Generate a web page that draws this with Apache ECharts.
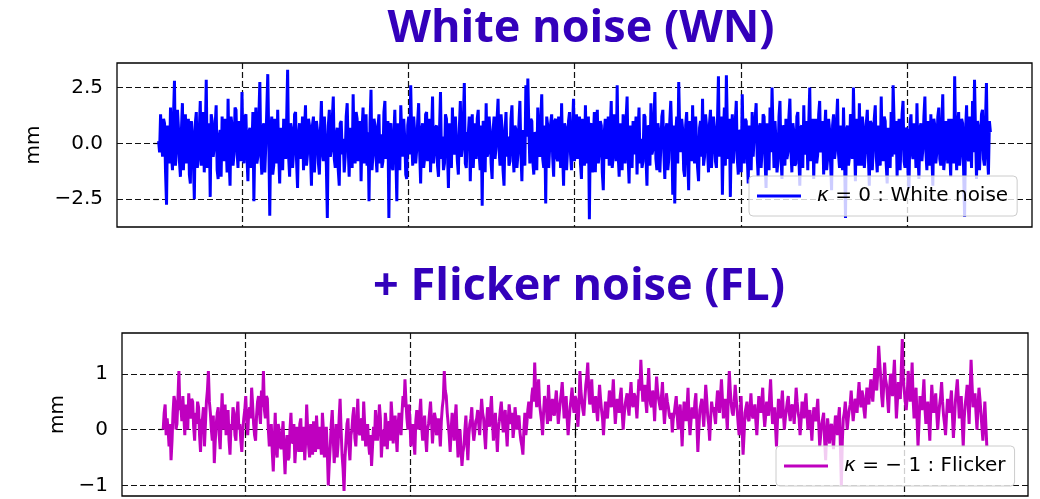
<!DOCTYPE html>
<html>
<head>
<meta charset="utf-8">
<script src="https://cdn.jsdelivr.net/npm/echarts@6/dist/echarts.min.js"></script>
<style>
  html, body { margin: 0; padding: 0; background: #ffffff; }
  #chart { width: 1040px; height: 499px; }
</style>
</head>
<body>
<div id="chart"></div>
<script>
// Position time series, in mm
const whiteNoise = [
  0.1, -0.4, 1.3, 0.2, -0.6, 1.1, 0.9, -1.3, -2.75, 0.8, 0.4, -0.9, 1.6, -0.5, -1.2, 1.2, 2.8, -1.0, -0.3, 1.5,
  0.7, -0.8, -1.5, 0.6, 1.8, -1.2, 0.2, 1.3, -0.9, 0.5, 1.1, -1.4, -1.8, 1.0, 0.5, -0.7, -2.5, 0.9, 1.4, -1.1,
  -0.7, 0.6, 1.9, -1.0, 0.3, 1.4, -1.3, 0.2, 2.85, -1.1, -0.4, 0.9, -2.4, 1.3, 1.0, -0.6, -0.2, 0.8, 1.7, -1.2,
  -1.6, 0.3, 0.6, -1.5, 1.2, -0.4, -0.8, 1.1, 0.1, -1.3, 2.0, -0.7, -1.9, 1.2, 0.8, -1.0, -0.5, 1.6, 1.5, -0.3,
  -1.1, 1.0, 0.4, -0.8, 2.3, -0.2, -0.9, 1.2, 1.3, -0.6, -1.7, 0.5, 0.7, -1.1, -0.3, 1.4, -2.6, 0.3, 1.6, -0.9,
  -0.6, 1.2, 2.75, -0.5, -1.4, 0.7, 0.9, -1.3, -0.1, 1.5, 3.1, 0.2, -3.25, 0.6, 1.2, -1.4, -1.0, 1.1, 0.5, -0.9,
  1.5, -0.5, -1.8, 0.7, 0.2, -1.2, 1.1, -0.3, -0.7, 1.0, 3.3, -0.6, -1.5, 0.9, 0.6, -1.1, -0.4, 1.3, 1.4, -0.8,
  -2.0, 0.4, 0.9, -0.7, 0.0, 1.2, -1.2, 0.5, 1.7, -1.0, -0.5, 1.1, 0.8, -0.4, -1.9, 0.8, 1.2, -1.3, -0.2, 1.0,
  0.6, -0.9, -1.4, 0.5, 1.9, -0.4, -0.8, 1.2, 0.3, -1.0, -3.35, 0.8, 1.5, -0.6, -0.3, 1.1, 2.1, -0.7, -1.1, 0.4,
  0.7, -1.2, -1.9, 0.9, 1.0, -0.5, 0.2, -1.3, -0.6, 1.2, 1.8, -0.2, -1.5, 0.7, 0.4, -1.1, 2.2, -0.3, -0.9, 1.4,
  1.1, -0.8, -0.4, 1.0, -1.7, 0.6, 1.6, -0.9, 0.1, 1.3, -1.0, 0.5, -2.6, 0.9, 2.4, -1.2, -0.5, 1.1, 0.8, -0.6,
  -1.3, 0.7, 1.3, -0.9, 0.4, -1.1, -0.8, 1.4, 1.9, -0.7, -0.2, 1.0, -3.35, 0.8, 0.9, -1.0, -1.2, 0.4, 1.5, -0.5,
  -2.6, 0.9, 0.7, -1.2, 1.7, 0.3, -0.6, 1.1, 0.2, -1.4, -1.6, 0.8, 1.2, -0.5, 2.6, 0.2, -1.0, 1.2, 0.5, -0.9,
  -0.3, 1.0, 1.8, -0.4, -1.8, 0.6, 0.9, -1.1, -0.7, 1.3, 1.4, -0.8, 0.0, 1.1, -1.3, 0.5, 2.1, -0.9, -0.4, 0.7,
  0.8, -1.0, -1.5, 0.6, 2.3, -0.7, 0.3, -1.2, -0.9, 1.3, 1.1, -0.4, -2.0, 0.9, 0.6, -1.1, 1.6, -0.3, -0.5, 1.2,
  0.2, -0.8, -1.4, 0.7, 1.9, -0.6, -0.2, 1.0, 2.7, -0.9, -1.1, 0.5, 0.4, 1.2, -1.7, 0.3, 1.3, -1.1, 0.0, 0.9,
  -0.7, 1.1, 1.5, -0.5, -1.2, 0.8, -2.8, 1.0, 0.9, -1.3, 1.8, -0.6, -0.4, 1.2, 0.5, -0.9, -1.6, 0.6, 1.2, -0.7,
  -0.1, 1.1, 2.0, -0.3, -1.0, 1.3, 0.7, -1.2, -1.9, 0.5, 1.4, -0.6, 0.3, -1.0, -0.8, 1.1, 1.7, -0.4, -1.3, 0.8,
  0.6, -1.1, -0.5, 0.9, 1.9, -0.4, -1.7, 0.6, 0.2, -1.0, 2.6, 0.3, 2.9, 0.7, -0.9, 1.1, 1.0, -0.8, -1.4, 0.5,
  0.4, -1.2, 1.6, -0.3, -0.6, 1.0, 2.2, -0.7, -1.1, 0.8, -2.7, 1.2, 0.8, -1.1, -0.2, 0.9, 1.3, -0.6, -1.5, 1.0,
  1.1, -0.6, -0.8, 1.2, 0.3, -1.1, 1.8, -0.4, -1.9, 0.9, 0.7, -1.2, -0.3, 1.0, 1.4, -0.5, -1.2, 0.7, 2.0, -0.8,
  0.1, 1.3, -0.7, 0.6, 1.2, -0.9, -1.6, 1.1, 0.5, -1.0, 1.7, -0.3, -0.9, 1.2, -3.4, 0.8, 0.9, -1.3, 0.2, 1.4,
  -1.3, 0.7, 1.5, -0.9, -0.4, 1.0, 0.8, -1.3, -2.1, 0.5, 1.1, -0.7, 0.3, 1.2, -1.0, 0.6, 1.9, -1.1, -0.6, 1.3,
  0.6, -0.8, 2.6, -0.5, -1.5, 0.9, 0.0, -1.2, 1.3, -0.4, -0.9, 1.1, 2.1, -0.6, -1.8, 0.8, 0.4, -1.1, 1.0, -0.5,
  -0.5, 1.2, -1.4, 0.4, 1.6, -0.9, 0.2, -1.1, -0.8, 1.3, 1.2, -0.6, -1.9, 0.8, 0.7, -1.0, 1.8, -0.5, -0.3, 1.1,
  2.3, -0.7, -1.2, 0.9, 0.5, -1.3, -0.1, 1.2, 1.5, -0.4, -1.6, 0.6, 0.9, -1.2, -0.7, 1.0, 1.9, 0.3, -2.3, 0.8,
  -2.7, 0.4, 1.2, -0.9, 2.75, 0.6, -0.4, 1.1, 0.6, -1.2, -1.5, 0.8, 1.4, -0.5, -2.1, 1.0, 0.3, -0.8, 1.7, -0.4,
  -0.9, 1.2, 0.1, -1.1, -1.7, 0.7, 1.0, -0.6, 2.0, -1.0, -0.6, 1.3, 0.8, -0.3, -1.3, 0.9, 1.5, -1.1, -0.2, 1.2,
  0.7, -0.8, -1.1, 0.9, 3.0, -0.6, 0.4, 1.2, -2.3, 0.5, 1.6, -1.0, 3.05, 0.7, -0.7, 1.1, -2.4, 0.4, 1.3, -0.9,
  -0.2, 1.0, 1.9, -0.7, -1.4, 0.6, 0.5, -1.3, 2.2, -0.2, -0.9, 1.1, 1.0, -0.5, -1.8, 0.8, 0.2, -1.2, 1.4, -0.6,
  -0.6, 1.1, 1.8, -0.5, -1.5, 0.7, 0.9, -1.1, -0.3, 1.3, 1.2, -0.8, -2.0, 0.9, 0.4, -1.2, 1.6, -0.4, 2.5, 0.6,
  -1.1, 1.0, 0.1, -1.3, -0.8, 1.2, 1.9, -0.6, -1.6, 0.8, 0.7, -1.0, 1.1, -0.7, -0.4, 1.2, 2.0, -0.3, -1.3, 0.9,
  0.5, -1.0, -0.9, 1.2, 1.4, -0.6, -1.9, 0.7, 0.8, -1.1, 1.7, -0.5, -0.2, 1.0, -1.2, 0.9, 2.5, -0.8, 0.3, 1.1,
  -1.6, 0.6, 1.1, -0.9, -0.5, 1.3, 1.9, -0.4, 0.0, 1.0, -1.4, 0.5, 1.5, -1.2, -0.7, 1.1, 0.6, -0.9, -2.1, 0.8,
  1.3, -0.7, -0.3, 1.0, 2.0, -0.5, -1.1, 0.8, 0.4, -1.2, 1.6, -0.4, -3.35, 0.6, 0.8, -1.0, -0.6, 1.3, 1.2, -0.7,
  2.5, 0.4, -1.7, 1.1, 0.2, -1.0, 1.8, -0.6, -1.0, 1.2, 0.7, -1.1, -0.4, 0.9, 1.5, -0.5, -1.9, 1.0, 0.9, -1.2,
  -0.2, 1.1, 1.7, -0.6, -1.3, 0.8, 0.5, -1.0, 2.1, -0.3, -0.8, 1.2, 1.0, -0.9, -1.8, 0.7, 0.3, -1.1, 1.4, -0.6,
  2.6, 0.9, -0.5, 1.0, -1.5, 0.5, 1.1, -1.2, 0.0, 1.3, 1.9, -0.8, -1.1, 0.7, 0.6, -1.3, -2.0, 0.9, 1.3, -0.4,
  -0.7, 0.9, 0.4, -1.1, 1.8, -0.5, -1.6, 0.7, 0.9, -0.8, -0.2, 1.2, 2.1, -0.4, -1.2, 1.0, 0.5, -1.0, 1.3, -0.5,
  -1.9, 1.1, 0.8, -0.9, -0.4, 1.2, 1.6, -0.7, -1.0, 0.8, 2.2, -1.2, -0.6, 1.0, 0.2, -0.9, 1.1, -0.3, -1.5, 1.1,
  0.6, -0.9, 3.0, 0.2, -1.2, 0.8, 1.4, -1.0, -0.4, 1.1, 0.9, -1.2, -3.3, 0.6, 1.7, -0.6, -0.8, 1.2, 0.3, -1.1,
  1.9, -0.4, 2.85, 0.5, -1.6, 1.0, 0.7, -1.2, -0.1, 1.3, 1.5, -0.7, -1.0, 0.9, 2.7, -0.5, -1.4, 1.0, 0.5
];

const flickerNoise = [
  0.0, 0.3, 0.45, -0.1, 0.2, 0.0, -0.3, 0.1, -0.55, -0.2, 0.3, 0.6, 0.5, 0.0, 0.1, 0.55, 1.05, 0.35, 0.4, 0.15,
  0.6, 0.25, -0.1, 0.45, 0.3, 0.0, 0.65, 0.3, 0.2, 0.55, 0.5, 0.05, -0.2, 0.3, 0.1, 0.5, 0.4, -0.1, -0.4, 0.15,
  0.2, 0.4, -0.3, 0.1, 0.5, 0.7, 1.05, 0.5, 0.3, 0.0, -0.2, 0.25, -0.6, -0.2, 0.1, 0.3, 0.4, -0.1, -0.35, 0.2,
  0.65, 0.0, 0.2, 0.45, -0.1, 0.25, 0.35, -0.2, -0.45, 0.1, 0.0, 0.4, 0.3, -0.1, -0.2, 0.25, 0.5, 0.0, 0.1, -0.2,
  -0.4, 0.0, 0.2, 0.35, 0.6, 0.15, -0.1, 0.3, 0.4, 0.2, 0.75, 0.45, 0.1, -0.1, -0.2, 0.25, 0.5, 0.6, 0.3, 0.1,
  0.7, 0.4, 1.05, 0.35, 0.2, 0.6, 0.55, 0.0, -0.3, -0.15, 0.1, -0.4, -0.75, -0.2, 0.3, -0.35, -0.5, 0.1, 0.0, -0.3,
  -0.35, -0.1, 0.15, -0.4, -0.8, -0.3, -0.1, -0.55, -0.5, 0.0, 0.3, -0.2, -0.25, 0.1, -0.6, -0.3, 0.05, -0.15, -0.4, 0.1,
  0.2, -0.4, -0.15, 0.05, -0.55, -0.2, 0.45, 0.0, -0.3, -0.5, 0.1, -0.25, -0.45, 0.15, -0.05, -0.4, 0.25, -0.1, -0.35, 0.05,
  -0.2, -0.45, 0.3, 0.0, -0.5, -0.2, 0.05, -0.4, -1.0, -0.6, -0.3, 0.1, 0.35, -0.15, -0.6, -0.3, 0.1, -0.5, -0.25, 0.2,
  0.55, 0.0, -0.45, -0.7, -1.1, -0.5, -0.2, 0.1, 0.2, -0.3, -0.55, -0.1, 0.0, 0.25, 0.4, -0.15, -0.3, 0.1, 0.55, 0.0,
  -0.1, 0.15, 0.2, -0.2, 0.5, 0.1, -0.3, 0.0, 0.1, -0.25, -0.45, -0.1, -0.65, -0.3, 0.05, -0.2, 0.35, 0.1, -0.2, 0.05,
  0.45, 0.2, -0.5, -0.15, 0.0, -0.3, 0.3, 0.1, -0.35, 0.0, 0.15, -0.2, 0.5, 0.2, -0.25, 0.05, 0.25, -0.1, -0.4, 0.1,
  0.3, 0.05, -0.1, 0.3, 0.6, 0.4, 0.9, 0.5, 0.2, 0.0, 0.45, 0.2, -0.3, -0.05, 0.1, -0.2, -0.45, 0.15, 0.35, 0.1,
  0.0, 0.3, 0.55, 0.05, -0.2, 0.1, 0.25, -0.15, -0.4, 0.0, 0.1, 0.3, 0.5, 0.15, -0.25, 0.05, 0.3, 0.2, -0.1, 0.0,
  0.2, 0.0, -0.3, 0.15, 0.4, 0.55, 1.05, 0.7, 0.6, 0.3, 0.1, -0.1, -0.4, 0.0, 0.3, 0.1, -0.2, 0.2, 0.45, -0.1,
  -0.5, -0.2, 0.0, -0.35, -0.65, -0.4, -0.3, 0.0, 0.25, -0.2, -0.55, -0.1, 0.1, 0.2, 0.4, 0.0, -0.2, -0.05, 0.15, 0.2,
  0.35, 0.1, -0.1, 0.25, 0.55, 0.3, 0.2, -0.1, -0.35, 0.1, 0.4, 0.2, 0.05, 0.35, 0.6, 0.15, -0.2, 0.1, 0.3, -0.05,
  -0.4, 0.0, 0.15, 0.35, 0.5, 0.2, -0.05, 0.25, 0.35, 0.0, -0.3, 0.15, 0.45, 0.25, 0.1, 0.3, -0.15, 0.05, 0.4, 0.2,
  0.0, 0.2, 0.25, -0.05, -0.2, -0.3, -0.45, 0.0, 0.3, -0.1, 0.1, 0.35, 0.5, 0.25, 0.2, 0.6, 0.75, 0.5, 1.2, 0.7,
  0.4, 0.65, 0.9, 0.45, 0.3, 0.15, -0.1, 0.3, 0.6, 0.5, 0.35, 0.1, 0.8, 0.45, 0.15, 0.4, 0.55, 0.3, 0.25, 0.5,
  0.7, 0.4, 0.1, 0.3, 0.5, 0.65, 0.85, 0.5, 0.2, 0.45, 0.6, 0.2, -0.1, 0.15, 0.4, 0.55, 0.75, 0.45, 0.3, 0.6,
  0.55, 0.3, 0.05, 0.4, 1.05, 0.7, 0.5, 0.35, 0.25, 0.55, 0.8, 0.95, 1.2, 0.7, 0.45, 0.6, 0.9, 0.5, 0.3, 0.45,
  0.6, 0.35, 0.15, 0.5, 0.8, 0.55, 0.35, 0.2, -0.1, 0.25, 0.5, 0.3, 0.2, 0.45, 0.7, 0.55, 0.4, 0.6, 0.9, 0.45,
  0.1, 0.35, 0.55, 0.4, 0.3, 0.6, 0.75, 0.3, 0.0, 0.25, 0.45, 0.55, 0.65, 0.4, 0.25, 0.6, 0.85, 0.5, 0.4, 0.65,
  0.6, 0.45, 0.2, 0.55, 0.9, 0.7, 1.25, 0.85, 0.5, 0.65, 0.8, 0.5, 0.3, 0.75, 1.1, 0.6, 0.45, 0.4, 0.7, 0.5,
  0.15, 0.6, 0.95, 0.7, 0.55, 0.45, 0.35, 0.6, 0.85, 0.4, 0.1, 0.35, 0.65, 0.5, 0.4, 0.25, 0.2, 0.3, -0.05, 0.2,
  0.3, 0.45, 0.6, 0.25, 0.0, 0.3, 0.45, 0.1, -0.3, 0.2, 0.5, 0.35, 0.15, 0.4, 0.75, 0.2, -0.1, 0.15, 0.4, 0.3,
  0.2, 0.5, 0.65, 0.1, -0.4, 0.0, 0.35, 0.45, 0.55, 0.3, 0.05, 0.4, 0.8, 0.55, 0.25, 0.1, -0.2, 0.2, 0.5, 0.35,
  0.4, 0.25, 0.1, 0.45, 0.7, 0.5, 0.3, 0.6, 0.9, 0.55, 0.2, 0.35, 0.55, 0.3, 0.0, 0.6, 1.05, 0.7, 0.45, 0.3,
  0.25, 0.5, 0.8, 0.55, 0.35, 0.1, -0.1, 0.25, 0.6, 0.05, -0.45, -0.1, 0.3, 0.4, 0.5, 0.2, 0.15, 0.35, 0.65, 0.3,
  0.2, 0.35, 0.45, 0.15, -0.1, 0.25, 0.6, 0.4, 0.3, 0.5, 0.75, 0.3, 0.05, 0.25, 0.5, 0.35, 0.25, 0.6, 0.9, 0.45,
  0.1, 0.2, 0.4, 0.05, -0.3, 0.15, 0.55, 0.35, 0.2, 0.45, 0.7, 0.3, 0.0, 0.2, 0.35, 0.5, 0.6, 0.3, 0.15, 0.4,
  0.45, 0.3, 0.1, 0.4, 0.75, 0.5, 0.3, 0.2, -0.1, 0.15, 0.5, 0.35, 0.2, 0.45, 0.65, 0.3, 0.0, 0.2, 0.35, 0.1,
  -0.2, 0.15, 0.4, 0.25, 0.15, 0.35, 0.55, 0.1, -0.3, -0.1, 0.1, 0.2, 0.3, -0.2, -0.55, -0.1, 0.2, 0.0, -0.25, 0.05,
  0.1, -0.1, -0.35, 0.0, 0.25, 0.15, -0.1, 0.2, 0.4, -0.3, -1.0, -0.2, 0.2, 0.3, 0.5, 0.25, 0.0, 0.2, 0.35, 0.45,
  0.7, 0.4, 0.15, 0.35, 0.55, 0.5, 0.3, 0.6, 0.85, 0.55, 0.4, 0.7, 0.6, 0.35, 0.2, 0.5, 0.75, 0.6, 0.45, 0.7,
  0.9, 0.65, 0.5, 0.8, 1.1, 0.85, 0.7, 1.0, 1.5, 1.2, 0.95, 0.6, 0.4, 0.75, 1.2, 0.9, 0.8, 0.55, 0.3, 0.7,
  1.0, 0.8, 0.6, 0.95, 1.25, 0.7, 0.2, 0.5, 0.85, 0.65, 0.55, 1.1, 1.62, 0.9, 0.7, 0.5, 0.35, 0.6, 1.05, 0.8,
  0.5, 0.7, 1.2, 0.55, 0.2, 0.45, 0.75, 0.2, -0.3, 0.1, 0.6, 0.45, 0.35, 0.6, 0.9, 0.4, 0.1, 0.3, 0.5, 0.15,
  -0.2, 0.35, 0.8, 0.5, 0.3, 0.45, 0.65, 0.3, 0.0, 0.25, 0.45, 0.6, 0.85, 0.5, 0.25, 0.1, -0.1, 0.25, 0.55, 0.4,
  0.3, 0.5, 0.7, 0.25, -0.15, 0.15, 0.5, 0.7, 0.9, 0.55, 0.2, 0.4, 0.6, 0.1, -0.3, 0.2, 0.45, 0.6, 0.8, 0.45,
  0.1, 0.7, 1.25, 0.8, 0.4, 0.5, 0.65, 0.3, 0.0, 0.4, 0.75, 0.55, 0.3, 0.05, -0.2, 0.15, 0.5, 0.1, -0.3
];

// Time axis (arbitrary units) and tick positions
const timeStart = 0;
const timeEnd = 10;
const timeTicks = [1, 3, 5, 7, 9];
const wnTicks = [-2.5, 0, 2.5];
const flTicks = [-1, 0, 1];

const panelTitles = ['White noise (WN)', '+ Flicker noise (FL)'];
const seriesNames = ['\u03ba = 0 : White noise', '\u03ba = \u2212 1 : Flicker'];
const seriesColors = ['#0000ff', '#bf00bf'];
const yName = 'mm';

function toPairs(values) {
  const step = (timeEnd - timeStart) / (values.length - 1);
  return values.map((v, i) => [timeStart + i * step, v]);
}

function minusFmt(digits) {
  return v => (v < 0 ? '\u2212' : '') + Math.abs(v).toFixed(digits);
}

const FONT = 'DejaVu Sans';
const span = timeEnd - timeStart;
const xMin = timeStart - 0.05 * span;
const xMax = timeEnd + 0.05 * span;

function makeX(gridIndex) {
  return {
    type: 'value', gridIndex, min: xMin, max: xMax,
    axisLine: { show: false },
    axisTick: { show: true, customValues: timeTicks, length: 6, lineStyle: { color: '#000', width: 1.2 } },
    axisLabel: { show: false, customValues: timeTicks },
    splitLine: { show: true, lineStyle: { color: '#111', width: 1.2, type: [6, 3] } }
  };
}

function makeY(gridIndex, min, max, ticks, fmt, nameGap) {
  return {
    type: 'value', gridIndex, min, max,
    name: yName, nameLocation: 'middle', nameGap, nameRotate: 90,
    nameTextStyle: { fontFamily: FONT, fontSize: 20, color: '#000' },
    axisLine: { show: false },
    axisTick: { show: true, customValues: ticks, length: 5, lineStyle: { color: '#000', width: 1.2 } },
    axisLabel: { customValues: ticks, formatter: fmt, fontFamily: FONT, fontSize: 20, color: '#000', margin: 14 },
    splitLine: { show: true, lineStyle: { color: '#111', width: 1.2, type: [6, 3] } }
  };
}

function makeLegend(name, left, top) {
  return {
    data: [name], left, top, orient: 'horizontal',
    icon: 'rect', itemWidth: 44, itemHeight: 3,
    padding: [10, 9, 10, 8],
    backgroundColor: 'rgba(255,255,255,0.8)',
    borderColor: '#cccccc', borderWidth: 1, borderRadius: 4,
    selectedMode: false,
    formatter: n => '{k|\u03ba}' + n.slice(1),
    textStyle: {
      fontFamily: FONT, fontSize: 20, color: '#000', padding: [0, 0, 0, 11],
      rich: { k: { fontFamily: FONT, fontSize: 20, fontStyle: 'italic', color: '#000' } }
    }
  };
}

const titleStyle = { fontFamily: 'Open Sans', fontWeight: 'bold', fontSize: 45, color: '#3300bb' };

const chart = echarts.init(document.getElementById('chart'), null, { renderer: 'canvas' });
chart.setOption({
  animation: false,
  backgroundColor: '#ffffff',
  title: [
    { text: panelTitles[0], left: 576, top: 2, textAlign: 'center', textStyle: titleStyle },
    { text: panelTitles[1], left: 574, top: 260, textAlign: 'center', textStyle: titleStyle }
  ],
  grid: [
    { left: 117, right: 8, top: 63, height: 164, show: true, borderColor: '#000', borderWidth: 1.3 },
    { left: 122, right: 12, top: 333, height: 163, show: true, borderColor: '#000', borderWidth: 1.3 }
  ],
  xAxis: [makeX(0), makeX(1)],
  yAxis: [
    makeY(0, -3.75, 3.6, wnTicks, minusFmt(1), 72),
    makeY(1, -1.19, 1.73, flTicks, minusFmt(0), 50)
  ],
  legend: [
    makeLegend(seriesNames[0], 749, 176),
    makeLegend(seriesNames[1], 776, 446)
  ],
  series: [
    {
      name: seriesNames[0], type: 'line', xAxisIndex: 0, yAxisIndex: 0,
      data: toPairs(whiteNoise), showSymbol: false, symbol: 'none', sampling: 'none',
      lineStyle: { color: seriesColors[0], width: 3 }, itemStyle: { color: seriesColors[0] }
    },
    {
      name: seriesNames[1], type: 'line', xAxisIndex: 1, yAxisIndex: 1,
      data: toPairs(flickerNoise), showSymbol: false, symbol: 'none', sampling: 'none',
      lineStyle: { color: seriesColors[1], width: 3 }, itemStyle: { color: seriesColors[1] }
    }
  ]
});
</script>
</body>
</html>
